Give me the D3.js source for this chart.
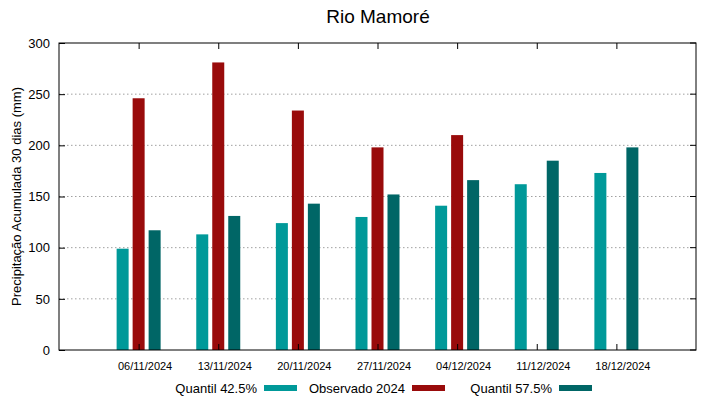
<!DOCTYPE html>
<html><head><meta charset="utf-8">
<script src="https://cdn.jsdelivr.net/npm/d3@7/dist/d3.min.js"></script>
<style>body{margin:0;background:#fff;} text{font-family:"Liberation Sans",Arial,sans-serif;}</style>
</head><body>
<svg id="c" width="719" height="399"></svg>
<script>
const categories = ["06/11/2024","13/11/2024","20/11/2024","27/11/2024","04/12/2024","11/12/2024","18/12/2024"];
const q425 = [99,113,124,130,141,162,173];
const observado = [246,281,234,198,210,null,null];
const q575 = [117,131,143,152,166,185,198];
const yTicks = [0,50,100,150,200,250,300];
const seriesNames = ["Quantil 42.5%","Observado 2024","Quantil 57.5%"];
const colors = ["#009999","#990b0b","#006666"];

const svg = d3.select("#c");
const L=59,R=696,T=43,B=350;
const x = d3.scaleLinear().domain([-1,7]).range([L,R]);
const y = d3.scaleLinear().domain([0,300]).range([B,T]);

// grid
svg.append("g").selectAll("line").data(yTicks.filter(d=>d>0&&d<300)).join("line")
  .attr("x1",L).attr("x2",R).attr("y1",d=>y(d)).attr("y2",d=>y(d))
  .attr("stroke","#a0a0a0").attr("stroke-width",1).attr("stroke-dasharray","1.5,2.5");

const series=[q425,observado,q575];
const bw=12, off=16;
series.forEach((s,si)=>{
  svg.append("g").selectAll("rect").data(s.map((v,i)=>({v,i})).filter(d=>d.v!=null)).join("rect")
    .attr("x",d=>x(d.i)+(si-1)*off-bw/2).attr("width",bw)
    .attr("y",d=>y(d.v)).attr("height",d=>B-y(d.v))
    .attr("fill",colors[si]);
});

// axes frame
svg.append("rect").attr("x",L).attr("y",T).attr("width",R-L).attr("height",B-T)
  .attr("fill","none").attr("stroke","#000").attr("stroke-width",1);

// y axis
const ya = d3.axisLeft(y).tickValues(yTicks).tickSize(-6).tickPadding(9);
const yg = svg.append("g").attr("transform",`translate(${L},0)`).call(ya);
yg.select(".domain").remove();
yg.selectAll("text").attr("font-size","13px").attr("fill","#000").style("font-family","Liberation Sans, Arial, sans-serif");
// right ticks
svg.append("g").selectAll("line").data(yTicks).join("line")
  .attr("x1",R).attr("x2",R-6).attr("y1",d=>y(d)).attr("y2",d=>y(d)).attr("stroke","#000");

// x axis
const xa = d3.axisBottom(x).tickValues(d3.range(categories.length)).tickFormat(i=>categories[i]).tickSize(-6).tickPadding(12);
const xg = svg.append("g").attr("transform",`translate(0,${B})`).call(xa);
xg.select(".domain").remove();
xg.selectAll("text").attr("font-size","11px").attr("dx","6").attr("fill","#000").style("font-family","Liberation Sans, Arial, sans-serif");
// top ticks
const xt = d3.axisTop(x).tickValues(d3.range(categories.length)).tickFormat("").tickSize(-6);
const xtg = svg.append("g").attr("transform",`translate(0,${T})`).call(xt);
xtg.select(".domain").remove();

// title
svg.append("text").attr("x",378).attr("y",23).attr("text-anchor","middle").attr("font-size","19px").text("Rio Mamoré");
// y label
svg.append("text").attr("transform",`translate(21,${(T+B)/2}) rotate(-90)`).attr("text-anchor","middle")
  .attr("font-size","13px").text("Precipitação Acumulada 30 dias (mm)");

// legend
const legX=[264,412,559];
seriesNames.forEach((n,i)=>{
  svg.append("text").attr("x",legX[i]-7).attr("y",393).attr("text-anchor","end").attr("font-size","13px").text(n);
  svg.append("rect").attr("x",legX[i]).attr("y",385).attr("width",33).attr("height",6).attr("fill",colors[i]);
});
</script>
</body></html>
